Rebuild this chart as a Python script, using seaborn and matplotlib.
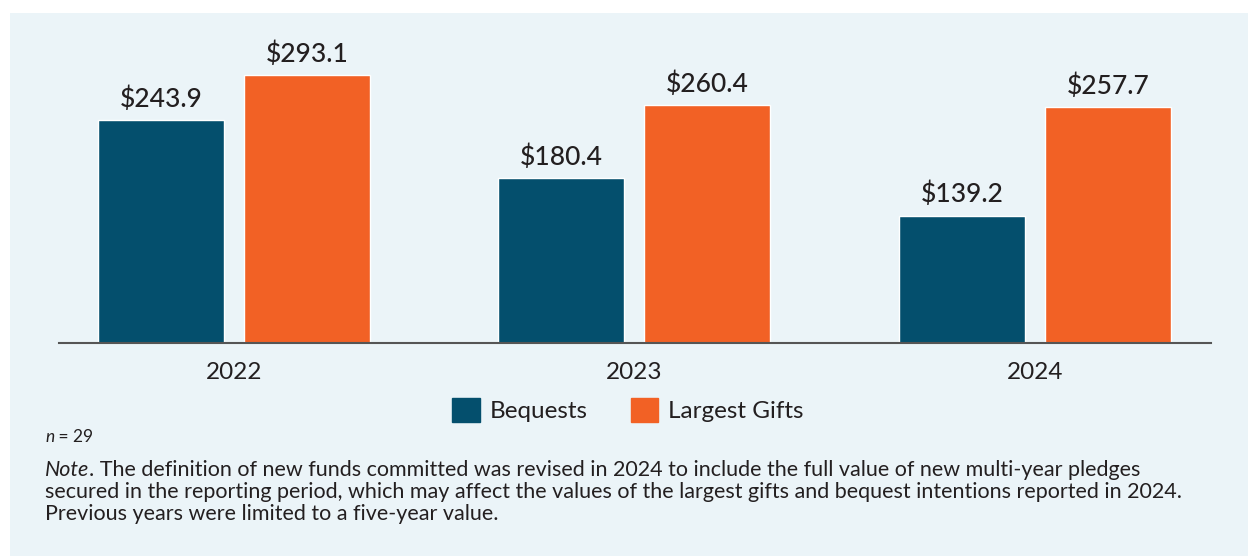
import matplotlib
matplotlib.use("Agg")
import matplotlib.pyplot as plt
import numpy as np
import pandas as pd
import seaborn as sns
from matplotlib.patches import Rectangle

# chart data
years = ["2022", "2023", "2024"]
series = ["Bequests", "Largest Gifts"]
bequests = [243.9, 180.4, 139.2]
largest_gifts = [293.1, 260.4, 257.7]

colors = {"Bequests": "#044F6D", "Largest Gifts": "#F26125"}
panel_bg = "#EBF4F8"
text_col = "#231F20"

df = pd.DataFrame({
    "Year": years * 2,
    "Series": [series[0]] * 3 + [series[1]] * 3,
    "Value": bequests + largest_gifts,
})

sns.set_theme(style="white")
plt.rcParams["font.family"] = ["Lato", "DejaVu Sans"]

W, H = 1248, 556
fig = plt.figure(figsize=(W / 100, H / 100), dpi=100, facecolor="white")

# light panel behind the chart
fig.patches.append(Rectangle((10 / W, 0), 1 - 10 / W, (H - 13) / H,
                             transform=fig.transFigure, facecolor=panel_bg,
                             edgecolor="none", zorder=-5))

ax = fig.add_axes([59 / W, (H - 343) / H, (1211 - 59) / W, (343 - 30) / H])
ax.set_zorder(2)
ax.set_facecolor("none")

sns.barplot(data=df, x="Year", y="Value", hue="Series", order=years,
            hue_order=series, palette=colors, width=0.729, gap=0.137,
            ax=ax, legend=False, saturation=1)

for cont in ax.containers:
    for bar in cont:
        h = bar.get_height()
        ax.annotate(f"${h:.1f}", (bar.get_x() + bar.get_width() / 2, h),
                    xytext=(0, 6), textcoords="offset points",
                    ha="center", va="bottom", fontsize=19, fontweight="medium",
                    color=text_col)

ax.set_xlim(-0.437, 2.44)
ax.set_ylim(0, 342.3)
ax.set_xlabel("")
ax.set_ylabel("")
ax.set_yticks([])
for s in ["top", "right", "left"]:
    ax.spines[s].set_visible(False)
ax.spines["bottom"].set_color("#555555")
ax.spines["bottom"].set_linewidth(1.5)
ax.tick_params(axis="x", length=0, pad=14, labelsize=17.5, labelcolor=text_col)

# legend
handles = [Rectangle((0, 0), 1, 1, color=colors[s]) for s in series]
fig.legend(handles, series, loc="center", bbox_to_anchor=(628 / W, (H - 410) / H),
           ncol=2, frameon=False, fontsize=17.5, handlelength=1.15,
           handleheight=1.15, handletextpad=0.4, columnspacing=1.75,
           labelcolor=text_col)

# footnotes
renderer = fig.canvas.get_renderer()


def inline(parts, x, y, size):
    # place text runs one after another on one line (pixels from top-left)
    for txt, style in parts:
        t = fig.text(x / W, (H - y) / H, txt, fontsize=size, style=style,
                     color=text_col, va="center", ha="left")
        x += t.get_window_extent(renderer).width


inline([("n", "italic"), (" = 29", "normal")], 45, 437, 12.5)
note_lines = [
    "The definition of new funds committed was revised in 2024 to include the full value of new multi-year pledges",
    "secured in the reporting period, which may affect the values of the largest gifts and bequest intentions reported in 2024.",
    "Previous years were limited to a five-year value.",
]
inline([("Note", "italic"), (". " + note_lines[0], "normal")], 45, 470, 15.5)
inline([(note_lines[1], "normal")], 45, 492, 15.5)
inline([(note_lines[2], "normal")], 45, 514, 15.5)

fig.savefig("out.png", dpi=100, facecolor="white")
